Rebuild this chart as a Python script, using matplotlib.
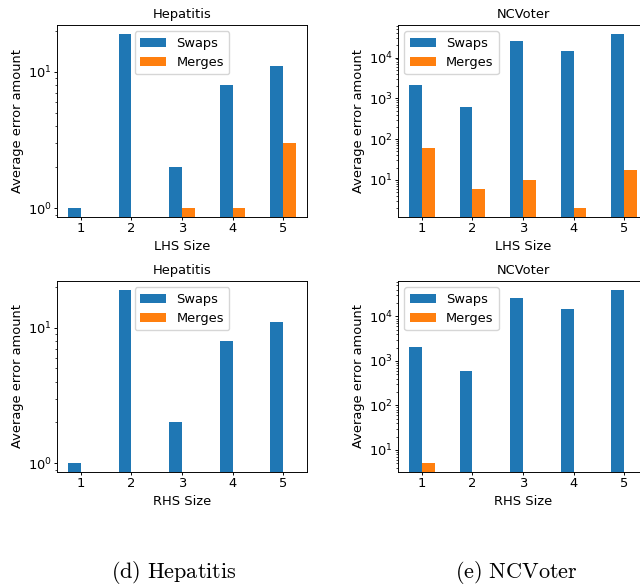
import numpy as np
import matplotlib
matplotlib.use('Agg')
import matplotlib.pyplot as plt

# original figure looks like font 11 shrunk by ~0.85
s = 0.85
plt.rcParams['font.size'] = 11 * s
plt.rcParams['axes.titlesize'] = 11 * s
plt.rcParams['axes.linewidth'] = 0.8 * s
plt.rcParams['xtick.major.size'] = 2.4
plt.rcParams['ytick.major.size'] = 2.4
plt.rcParams['ytick.minor.size'] = 1.5
plt.rcParams['xtick.major.pad'] = 1.5
plt.rcParams['ytick.major.pad'] = 1.2
plt.rcParams['xtick.major.width'] = 0.8 * s
plt.rcParams['ytick.major.width'] = 0.8 * s
plt.rcParams['ytick.minor.width'] = 0.6 * s
plt.rcParams['axes.titlepad'] = 6 * s
plt.rcParams['axes.labelpad'] = 3

sizes = [1, 2, 3, 4, 5]

hep_lhs_swaps = [1, 19, 2, 8, 11]
hep_lhs_merges = [0, 0, 1, 1, 3]
hep_rhs_swaps = [1, 19, 2, 8, 11]
hep_rhs_merges = [0, 0, 0, 0, 0]

nc_lhs_swaps = [2150, 600, 26000, 14500, 38500]
nc_lhs_merges = [60, 6, 10, 2, 17]
nc_rhs_swaps = [2100, 580, 26000, 15000, 40000]
nc_rhs_merges = [5, 0, 0, 0, 0]

panels = [
    ("Hepatitis", "LHS Size", hep_lhs_swaps, hep_lhs_merges, "upper center"),
    ("NCVoter", "LHS Size", nc_lhs_swaps, nc_lhs_merges, "upper left"),
    ("Hepatitis", "RHS Size", hep_rhs_swaps, hep_rhs_merges, "upper center"),
    ("NCVoter", "RHS Size", nc_rhs_swaps, nc_rhs_merges, "upper left"),
]
rects = [
    [57/640, 1-217/587, 250/640, 192/587],
    [398/640, 1-217/587, 250/640, 192/587],
    [57/640, 1-472/587, 250/640, 191/587],
    [398/640, 1-472/587, 250/640, 191/587],
]

fig = plt.figure(figsize=(6.4, 5.87), dpi=100)
w = 0.25
for (title, xlab, sw, mg, loc), r in zip(panels, rects):
    ax = fig.add_axes(r)
    x = np.array(sizes)
    ax.bar(x - w/2, sw, w, label="Swaps", color="#1f77b4")
    ax.bar(x + w/2, mg, w, label="Merges", color="#ff7f0e")
    ax.set_yscale("log")
    vals = np.array(list(sw) + list(mg), dtype=float)
    lo = np.log10(vals[vals > 0].min())
    hi = np.log10(vals.max())
    m = 0.05 * (hi - lo)
    ax.set_ylim(10 ** (lo - m), 10 ** (hi + m))
    ax.set_xlim(0.525, 5.475)
    ax.set_xticks(sizes)
    ax.set_title(title)
    ax.set_xlabel(xlab)
    ax.set_ylabel("Average error amount")
    ax.legend(loc=loc)

fig.text(174/640, 1-572/587, r"$\mathrm{(d)\ Hepatitis}$", ha="center", va="center",
         fontsize=16, math_fontfamily='cm')
fig.text(516/640, 1-572/587, r"$\mathrm{(e)\ NCVoter}$", ha="center", va="center",
         fontsize=16, math_fontfamily='cm')

fig.savefig("out.png", dpi=100)
